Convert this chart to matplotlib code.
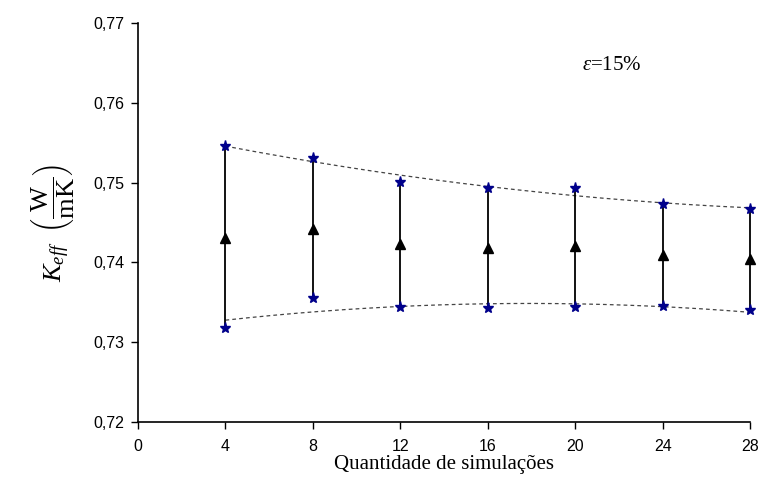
import numpy as np
import matplotlib.pyplot as plt

plt.rcParams['mathtext.fontset'] = 'custom'
plt.rcParams['mathtext.rm'] = 'Liberation Serif'
plt.rcParams['mathtext.it'] = 'Liberation Serif:italic'

# Data.
n_sim = [4, 8, 12, 16, 20, 24, 28]
k_mean = [0.7431, 0.7442, 0.7423, 0.7418, 0.7421, 0.7409, 0.7404]
k_upper = [0.7546, 0.7531, 0.7501, 0.7493, 0.7493, 0.7473, 0.7467]
k_lower = [0.7318, 0.7355, 0.7344, 0.7343, 0.7344, 0.7345, 0.7340]

x = np.array(n_sim, dtype=float)
up = np.array(k_upper)
lo = np.array(k_lower)

fig = plt.figure(figsize=(7.6, 4.83), dpi=100)
ax = fig.add_axes([0.1816, 0.1263, 0.8054, 0.8257])

# Excel-like polynomial trend lines through the bar ends.
xs = np.linspace(x[0], x[-1], 200)
pu = np.polyfit(x, up, 2)
pl = np.polyfit(x, lo, 2)
ax.plot(xs, np.polyval(pu, xs), ls=(0, (3, 2.5)), color='#444444', lw=0.9)
ax.plot(xs, np.polyval(pl, xs), ls=(0, (3, 2.5)), color='#444444', lw=0.9)

ax.vlines(x, lo, up, color='black', lw=1.3, clip_on=False)
ax.plot(x, up, ls='none', marker='*', ms=8, color='#00008b', clip_on=False)
ax.plot(x, lo, ls='none', marker='*', ms=8, color='#00008b', clip_on=False)
ax.plot(x, k_mean, ls='none', marker='^', ms=7, color='black', clip_on=False)

ax.set_xlim(0, 28)
ax.set_ylim(0.72, 0.77)
ax.set_xticks(range(0, 29, 4))
yt = np.arange(0.72, 0.7701, 0.01)
ax.set_yticks(yt)
ax.set_yticklabels([('%.2f' % v).replace('.', ',') for v in yt])
for lab in ax.get_xticklabels() + ax.get_yticklabels():
    lab.set_fontfamily('Liberation Sans')
    lab.set_fontsize(11.5)
ax.tick_params(direction='out', length=5, width=1, colors='black')
ax.tick_params(axis='x', pad=7)
ax.tick_params(axis='y', pad=5)

for s in ['top', 'right']:
    ax.spines[s].set_visible(False)
for s in ['left', 'bottom']:
    ax.spines[s].set_linewidth(1.2)

ax.set_xlabel('Quantidade de simulações', fontfamily='Liberation Serif', fontsize=15, labelpad=1)
ax.set_ylabel(r'$K_{eff}\ \ \left(\dfrac{\mathrm{W}}{\mathrm{mK}}\right)$', fontsize=19, labelpad=12)
ax.text(20.3, 0.7641, r'$\varepsilon$=15%', fontfamily='Liberation Serif', fontsize=15)

fig.savefig('out.png', dpi=100)
